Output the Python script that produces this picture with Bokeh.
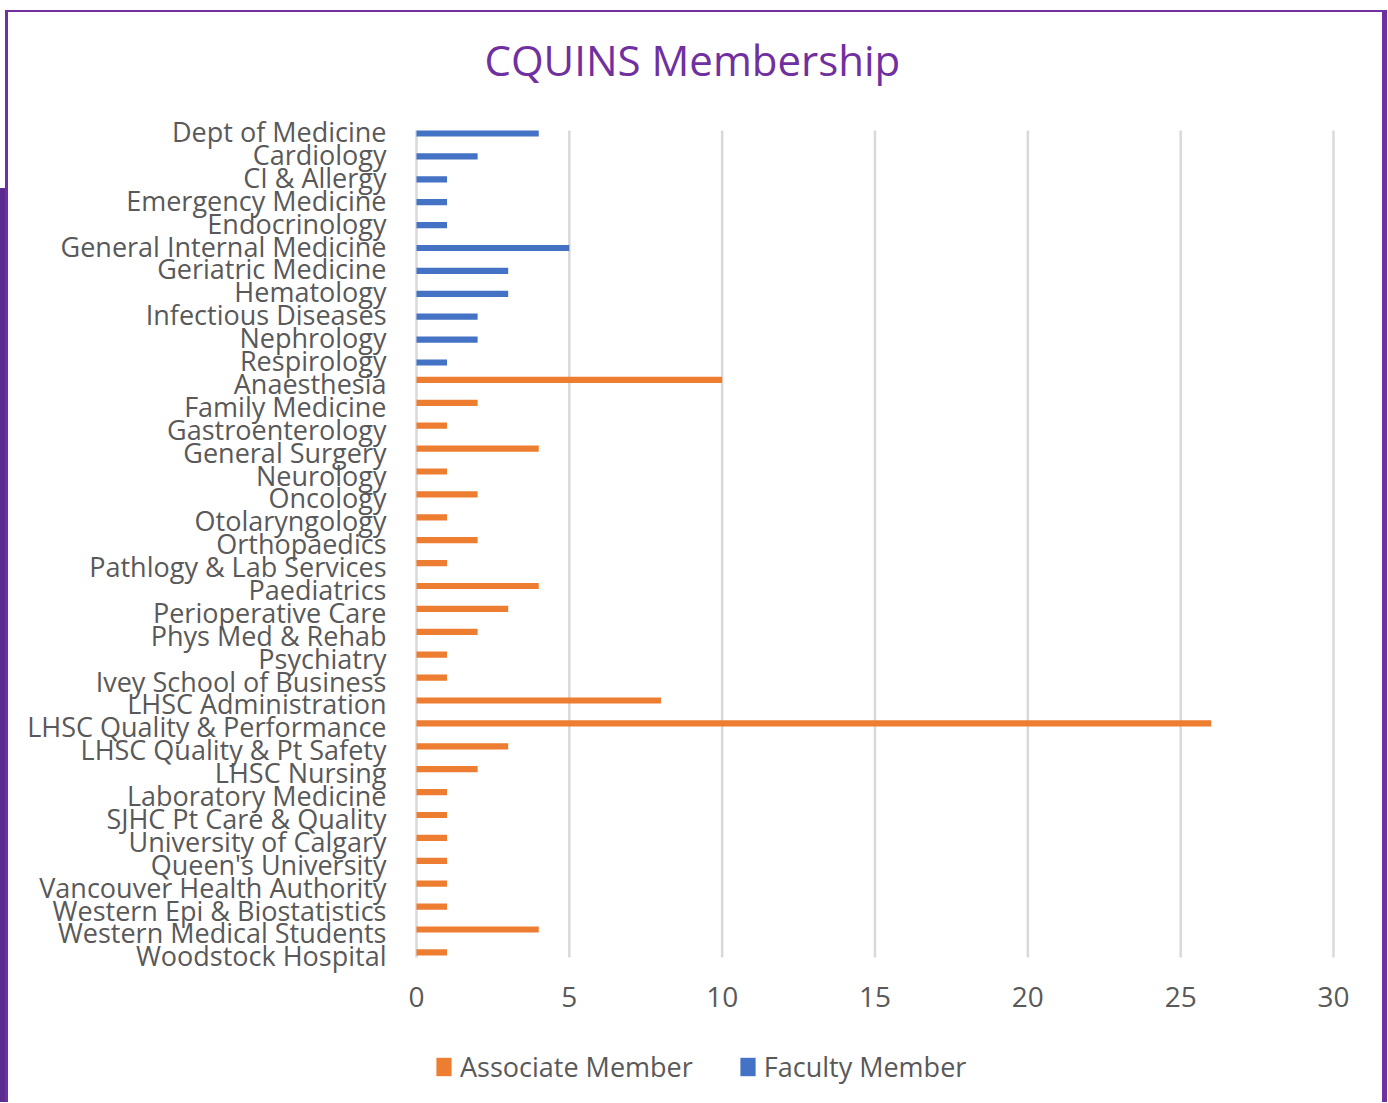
from bokeh.plotting import figure
from bokeh.models import Range1d, FixedTicker, ColumnDataSource, Legend, LegendItem
from bokeh.transform import dodge
from bokeh.embed import file_html
from bokeh.resources import INLINE

title_text = "CQUINS Membership"

faculty_categories = [
    "Dept of Medicine", "Cardiology", "CI & Allergy", "Emergency Medicine",
    "Endocrinology", "General Internal Medicine", "Geriatric Medicine",
    "Hematology", "Infectious Diseases", "Nephrology", "Respirology",
]
faculty_values = [4, 2, 1, 1, 1, 5, 3, 3, 2, 2, 1]

associate_categories = [
    "Anaesthesia", "Family Medicine", "Gastroenterology", "General Surgery",
    "Neurology", "Oncology", "Otolaryngology", "Orthopaedics",
    "Pathlogy & Lab Services", "Paediatrics", "Perioperative Care",
    "Phys Med & Rehab", "Psychiatry", "Ivey School of Business",
    "LHSC Administration", "LHSC Quality & Performance",
    "LHSC Quality & Pt Safety", "LHSC Nursing", "Laboratory Medicine",
    "SJHC Pt Care & Quality", "University of Calgary", "Queen's University",
    "Vancouver Health Authority", "Western Epi & Biostatistics",
    "Western Medical Students", "Woodstock Hospital",
]
associate_values = [10, 2, 1, 4, 1, 2, 1, 2, 1, 4, 3, 2, 1, 1, 8, 26, 3, 2,
                    1, 1, 1, 1, 1, 1, 4, 1]

x_ticks = [0, 5, 10, 15, 20, 25, 30]
series_names = ["Associate Member", "Faculty Member"]

categories = faculty_categories + associate_categories
n = len(categories)

FONT = "Open Sans"
TEXT = "#595959"
PURPLE = "#7030A0"
ORANGE = "#ED7D31"
BLUE = "#4472C4"
GRID = "#D9D9D9"

fac_src = ColumnDataSource(dict(
    idx=[categories.index(c) for c in faculty_categories],
    val=faculty_values,
))
asc_src = ColumnDataSource(dict(
    idx=[categories.index(c) for c in associate_categories],
    val=associate_values,
))

# bar area runs from y_grid_top to y_bars_bottom (category index units);
# the frame extends a little higher and further down (tick labels, legend)
y_grid_top = -0.044
y_frame_top = y_grid_top - 1.31
y_bars_bottom = n - 1 + 0.07
y_frame_bottom = n - 1 + 6.14
y_axis_at = n - 1 + 2.44
x_pad = 0.654  # room so that the edge tick labels are not clipped

p = figure(
    width=1382, height=1092,
    x_range=Range1d(x_ticks[0] - x_pad, x_ticks[-1] + x_pad),
    y_range=Range1d(y_frame_bottom, y_frame_top),
    x_axis_location="above",
    output_backend="svg", toolbar_location=None,
    min_border_left=388, min_border_right=37,
    min_border_top=88, min_border_bottom=8,
)
p.styles = {
    "margin-left": "5px",
    "margin-top": "10px",
    "border-top": "2px solid " + PURPLE,
    "border-left": "3px solid " + PURPLE,
    "border-right": "5px solid " + PURPLE,
    "box-shadow": "-94px 89px 0 -89px #5B2C8F",
}
p.outline_line_color = None
p.background_fill_color = "white"
p.border_fill_color = "white"

# vertical gridlines limited to the bar area
p.segment(x0=x_ticks, x1=x_ticks, y0=[y_grid_top] * len(x_ticks),
          y1=[y_bars_bottom] * len(x_ticks), line_color=GRID, line_width=2.5)

r_asc = p.hbar(y=dodge("idx", -0.153), right="val", left=0, height=0.27,
               source=asc_src, fill_color=ORANGE, line_color=None)
r_fac = p.hbar(y=dodge("idx", 0.087), right="val", left=0, height=0.27,
               source=fac_src, fill_color=BLUE, line_color=None)

# axes
p.xaxis.fixed_location = y_axis_at
p.xaxis.ticker = FixedTicker(ticks=x_ticks)
p.xaxis.axis_line_color = None
p.xaxis.major_tick_line_color = None
p.xaxis.minor_tick_line_color = None
p.xaxis.major_tick_out = 0
p.xaxis.major_tick_in = 0
p.xaxis.major_label_standoff = 5
p.xaxis.major_label_text_font = FONT
p.xaxis.major_label_text_font_size = "28px"
p.xaxis.major_label_text_color = TEXT

p.yaxis.ticker = FixedTicker(ticks=list(range(n)))
p.yaxis.major_label_overrides = {i: c for i, c in enumerate(categories)}
p.yaxis.axis_line_color = None
p.yaxis.major_tick_line_color = None
p.yaxis.minor_tick_line_color = None
p.yaxis.major_tick_out = 0
p.yaxis.major_label_standoff = 10
p.yaxis.major_label_text_font = FONT
p.yaxis.major_label_text_font_size = "27px"
p.yaxis.major_label_text_color = TEXT

p.xgrid.visible = False
p.ygrid.visible = False

# title
p.title.text = title_text
p.title.align = "left"
p.title.offset = 88
p.title.standoff = 26
p.title.text_font = FONT
p.title.text_font_size = "42px"
p.title.text_color = PURPLE
p.title.text_font_style = "normal"

legend = Legend(
    items=[LegendItem(label=series_names[0], renderers=[r_asc]),
           LegendItem(label=series_names[1], renderers=[r_fac])],
    orientation="horizontal", location=(38, 11),
    glyph_width=19, glyph_height=23, label_standoff=7, spacing=45,
    padding=0, margin=0, border_line_color=None, background_fill_alpha=0,
    label_text_font=FONT, label_text_font_size="27px", label_text_color=TEXT,
)
p.add_layout(legend, "center")

open("out.html", "w").write(file_html(p, INLINE))
